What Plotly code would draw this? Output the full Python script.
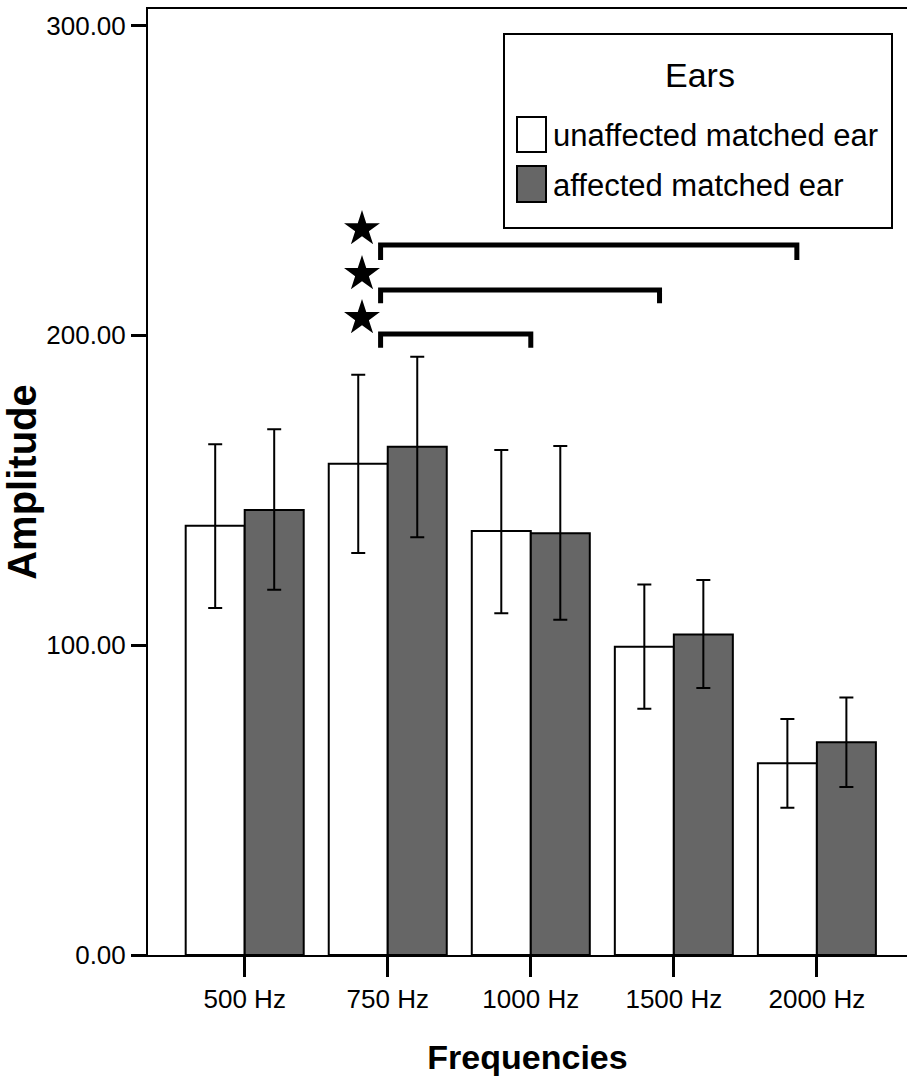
import plotly.graph_objects as go

# ---- data ----
frequencies = ["500 Hz", "750 Hz", "1000 Hz", "1500 Hz", "2000 Hz"]
unaffected_mean = [138.5, 158.5, 136.8, 99.5, 61.9]
unaffected_upper = [164.8, 187.3, 163.0, 119.6, 76.2]
unaffected_lower = [112.0, 129.7, 110.3, 79.5, 47.5]
affected_mean = [143.6, 164.0, 136.1, 103.4, 68.7]
affected_upper = [169.7, 193.1, 164.3, 121.0, 83.1]
affected_lower = [117.9, 134.8, 108.2, 86.2, 54.2]
y_ticks = [0, 100, 200, 300]

# significance brackets (from category index -> to category index position)
bracket_left = [0.95, 0.95, 0.95]
bracket_right = [3.86, 2.9, 2.0]
bracket_top = [229.1, 214.6, 200.4]
bracket_leg = [224.3, 210.3, 196.0]
star_x = [0.82, 0.82, 0.82]
star_y = [234.3, 219.8, 205.6]

FONT = "Liberation Sans, Arial, sans-serif"

x_idx = list(range(len(frequencies)))

fig = go.Figure()
fig.add_trace(go.Bar(
    x=x_idx, y=unaffected_mean, name="unaffected matched ear",
    marker=dict(color="white", line=dict(color="black", width=2)),
    error_y=dict(type="data", symmetric=False,
                 array=[u - m for u, m in zip(unaffected_upper, unaffected_mean)],
                 arrayminus=[m - l for m, l in zip(unaffected_mean, unaffected_lower)],
                 color="black", thickness=2, width=7),
    showlegend=False))
fig.add_trace(go.Bar(
    x=x_idx, y=affected_mean, name="affected matched ear",
    marker=dict(color="#666666", line=dict(color="black", width=2)),
    error_y=dict(type="data", symmetric=False,
                 array=[u - m for u, m in zip(affected_upper, affected_mean)],
                 arrayminus=[m - l for m, l in zip(affected_mean, affected_lower)],
                 color="black", thickness=2, width=7),
    showlegend=False))

fig.add_trace(go.Scatter(
    x=star_x, y=star_y, mode="markers",
    marker=dict(symbol="star", size=27, color="black"),
    showlegend=False, hoverinfo="skip"))

shapes = []
for xl, xr, yt, yl in zip(bracket_left, bracket_right, bracket_top, bracket_leg):
    shapes.append(dict(type="path", xref="x", yref="y",
                       path=f"M {xl},{yl} L {xl},{yt} L {xr},{yt} L {xr},{yl}",
                       line=dict(color="black", width=5)))

# custom legend (pixel -> paper conversion)
L, T, PW, PH = 148, 9, 759, 946
def px(x):
    return (x - L) / PW
def py(y):
    return (T + PH - y) / PH

shapes.append(dict(type="rect", xref="paper", yref="paper",
                   x0=px(504), x1=px(892), y0=py(228), y1=py(34),
                   line=dict(color="black", width=2), fillcolor="white", layer="above"))
shapes.append(dict(type="rect", xref="paper", yref="paper",
                   x0=px(517), x1=px(546), y0=py(152), y1=py(117),
                   line=dict(color="black", width=2), fillcolor="white", layer="above"))
shapes.append(dict(type="rect", xref="paper", yref="paper",
                   x0=px(517), x1=px(546), y0=py(202), y1=py(166),
                   line=dict(color="black", width=2), fillcolor="#666666", layer="above"))

annotations = [
    dict(text="Ears", xref="paper", yref="paper", x=px(700), y=py(75),
         xanchor="center", yanchor="middle", showarrow=False,
         font=dict(family=FONT, size=34, color="black")),
    dict(text="unaffected matched ear", xref="paper", yref="paper", x=px(551), y=py(136),
         xanchor="left", yanchor="middle", showarrow=False,
         font=dict(family=FONT, size=31, color="black")),
    dict(text="affected matched ear", xref="paper", yref="paper", x=px(551), y=py(185),
         xanchor="left", yanchor="middle", showarrow=False,
         font=dict(family=FONT, size=31, color="black")),
]

fig.update_layout(
    width=907, height=1084,
    margin=dict(l=148, r=0, t=9, b=129, pad=0, autoexpand=False),
    paper_bgcolor="white", plot_bgcolor="white",
    barmode="group", bargap=0.175, bargroupgap=0,
    shapes=shapes, annotations=annotations,
    xaxis=dict(
        tickmode="array", tickvals=x_idx, ticktext=frequencies,
        range=[-0.676, 4.63], showgrid=False, zeroline=False, automargin=False,
        showline=True, linecolor="black", linewidth=2, mirror=True,
        ticks="outside", ticklen=20, tickwidth=2.5, tickcolor="black",
        tickfont=dict(family=FONT, size=26, color="black"),
        title=dict(text="<b>Frequencies</b>", standoff=32,
                   font=dict(family=FONT, size=34, color="black")),
    ),
    yaxis=dict(
        range=[0, 305.3], tickvals=y_ticks, tickformat=".2f", automargin=False,
        showgrid=False, zeroline=False,
        showline=True, linecolor="black", linewidth=2,
        ticks="outside", ticklen=15, tickwidth=2.5, tickcolor="black",
        tickfont=dict(family=FONT, size=26, color="black"),
        title=dict(text="<b>Amplitude</b>", standoff=12,
                   font=dict(family=FONT, size=40, color="black")),
    ),
)

fig.write_html("out.html")
